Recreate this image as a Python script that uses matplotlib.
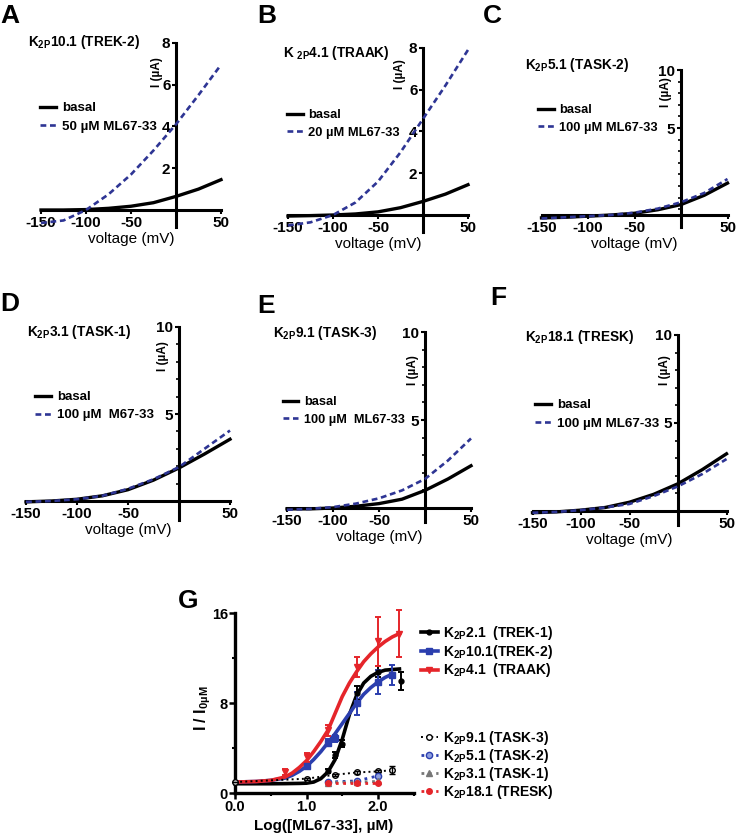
import numpy as np
import matplotlib
matplotlib.use("Agg")
import matplotlib.pyplot as plt
from matplotlib.ticker import FixedLocator

plt.rcParams['font.family'] = ['Liberation Sans', 'DejaVu Sans']
plt.rcParams['font.weight'] = 'bold'
plt.rcParams['axes.unicode_minus'] = False
plt.rcParams['mathtext.fontset'] = 'custom'
plt.rcParams['mathtext.rm'] = 'Liberation Sans:bold'
plt.rcParams['mathtext.bf'] = 'Liberation Sans:bold'
plt.rcParams['mathtext.default'] = 'bf'

# ---------------- data: I-V curves (uA) ----------------
voltage = [-150, -125, -100, -75, -50, -25, 0, 25, 50]

trek2_basal = [0.0, 0.0, 0.02, 0.08, 0.18, 0.35, 0.65, 1.0, 1.45]
trek2_ml = [-0.62, -0.5, 0.0, 0.75, 1.7, 2.85, 4.1, 5.5, 6.95]
traak_basal = [-0.05, -0.03, 0.0, 0.05, 0.15, 0.35, 0.65, 1.0, 1.45]
traak_ml = [-0.5, -0.35, 0.0, 0.6, 1.6, 3.0, 4.6, 6.2, 7.9]
task2_basal = [-2.75, -2.7, -2.6, -2.5, -2.35, -2.05, -1.6, -0.8, 0.25]
task2_ml = [-2.8, -2.7, -2.6, -2.5, -2.3, -1.95, -1.4, -0.6, 0.6]
task1_basal = [-0.05, 0.0, 0.1, 0.3, 0.65, 1.2, 1.9, 2.7, 3.55]
task1_ml = [-0.05, 0.0, 0.1, 0.3, 0.7, 1.25, 1.95, 3.0, 4.05]
task3_basal = [-0.05, -0.05, 0.0, 0.1, 0.25, 0.5, 1.0, 1.65, 2.4]
task3_ml = [-0.1, -0.05, 0.05, 0.25, 0.55, 1.0, 1.65, 2.7, 3.95]
tresk_basal = [-0.1, -0.05, 0.05, 0.2, 0.5, 0.95, 1.55, 2.35, 3.25]
tresk_ml = [-0.1, -0.05, 0.05, 0.2, 0.4, 0.85, 1.4, 2.1, 2.95]

volt_ticks = [-150, -100, -50, 50]

# ---------------- data: dose response (I / I0uM) ----------------
log_conc_fit = [0.0, 0.3, 0.5, 0.7, 0.8, 0.9, 1.0, 1.1, 1.2, 1.3, 1.4,
                1.5, 1.6, 1.7, 1.8, 1.9, 2.0, 2.1, 2.2, 2.3]
trek1_fit = [0.85, 0.85, 0.85, 0.86, 0.87, 0.88, 0.9, 1.0, 1.3, 1.9, 3.0,
             4.8, 7.0, 8.7, 9.8, 10.4, 10.75, 10.95, 11.0, 11.05]
trek2_fit = [1.0, 1.05, 1.15, 1.35, 1.6, 1.95, 2.4, 3.0, 3.7, 4.5, 5.3,
             6.2, 7.1, 8.0, 8.8, 9.4, 9.9, 10.3, 10.6]
traak_fit = [1.0, 1.05, 1.15, 1.45, 1.8, 2.3, 2.9, 3.7, 4.6, 5.6, 7.1,
             8.6, 9.8, 10.8, 11.7, 12.4, 13.0, 13.5, 13.9, 14.2]

trek1_x = [1.3, 1.4, 1.5, 1.7, 2.0, 2.32]
trek1_y = [2.0, 3.4, 4.4, 8.9, 10.8, 10.0]
trek1_err = [0.2, 0.3, 0.3, 0.6, 0.5, 0.8]
trek2_x = [1.0, 1.3, 1.4, 1.7, 2.0, 2.2]
trek2_y = [2.4, 4.5, 4.9, 8.0, 9.9, 10.5]
trek2_err = [0.2, 0.3, 0.3, 1.0, 1.1, 0.9]
traak_x = [0.7, 1.0, 1.3, 1.7, 2.0, 2.3]
traak_y = [1.9, 3.2, 5.6, 11.2, 13.5, 14.2]
traak_err = [0.3, 0.4, 0.5, 0.9, 2.2, 2.1]

task3_x = [0.0, 1.0, 1.4, 1.7, 2.0, 2.2]
task3_y = [1.0, 1.3, 1.65, 1.85, 1.95, 2.05]
task3_err = [0.0, 0.1, 0.1, 0.1, 0.1, 0.35]
task2_x = [1.3, 1.7, 2.0]
task2_y = [1.0, 1.1, 1.55]
task1_x = [1.3, 1.7, 2.0]
task1_y = [0.95, 1.0, 1.05]
tresk_x = [1.3, 1.7, 2.0]
tresk_y = [0.9, 0.9, 0.9]

BLUE_IV = '#2e3594'
BLUE = '#2b3eae'
RED = '#e5252a'
GREY = '#777777'

W, H = 737, 836
fig = plt.figure(figsize=(W / 100, H / 100), dpi=100)


def px_axes(left, top, right, bottom):
    # axes placed by pixel edges (origin top-left)
    return fig.add_axes([left / W, 1 - bottom / H, (right - left) / W, (bottom - top) / H])


def ptext(x, y, s, **kw):
    return fig.text(x / W, 1 - y / H, s, **kw)


# x0/y0: pixel of (0 mV, 0 uA); ppm / ppu: pixels per mV / per uA
panels = [
    dict(letter='A', lxy=(0, 16), title=r'K$_{2P}$10.1 (TREK-2)', txy=(28, 42),
         basal=trek2_basal, drug=trek2_ml, dlabel='50 \u00b5M ML67-33',
         x0=176, ppm=0.9, y0=210, ppu=20.9, ylim=(-0.8, 8), cross=0,
         yticks=[2, 4, 6, 8], minor=[], ylab=(157, 72), leg=(40, 102), lfs=9.6),
    dict(letter='B', lxy=(257, 16), title=r'K $_{2P}$4.1 (TRAAK)', txy=(283, 53),
         basal=traak_basal, drug=traak_ml, dlabel='20 \u00b5M ML67-33',
         x0=423, ppm=0.9, y0=215, ppu=20.9, ylim=(-0.8, 8), cross=0,
         yticks=[2, 4, 6, 8], minor=[], ylab=(400, 74), leg=(287, 109), lfs=9.3),
    dict(letter='C', lxy=(483, 16), title=r'K$_{2P}$5.1 (TASK-2)', txy=(525, 65),
         basal=task2_basal, drug=task2_ml, dlabel='100 \u00b5M ML67-33',
         x0=681, ppm=0.93, y0=186, ppu=11.6, ylim=(-3.5, 10), cross=-2.5,
         yticks=[5, 10], minor=[-2, -1, 0, 1, 2, 3, 4, 6, 7, 8, 9], ylab=(666, 92),
         leg=(538, 104), lfs=9.3),
    dict(letter='D', lxy=(0, 304), title=r'K$_{2P}$3.1 (TASK-1)', txy=(27, 332),
         basal=task1_basal, drug=task1_ml, dlabel='100 \u00b5M  M67-33',
         x0=179, ppm=1.02, y0=501, ppu=17.4, ylim=(-1.1, 10), cross=0,
         yticks=[5, 10], minor=[1, 2, 3, 4, 6, 7, 8, 9], ylab=(163, 356), leg=(35, 391), lfs=9.5),
    dict(letter='E', lxy=(257, 306), title=r'K$_{2P}$9.1 (TASK-3)', txy=(273, 333),
         basal=task3_basal, drug=task3_ml, dlabel='100 \u00b5M  ML67-33',
         x0=425, ppm=0.92, y0=508, ppu=17.6, ylim=(-0.8, 10), cross=0,
         yticks=[5, 10], minor=[1, 2, 3, 4, 6, 7, 8, 9], ylab=(413, 370), leg=(283, 396), lfs=9.2),
    dict(letter='F', lxy=(490, 298), title=r'K$_{2P}$18.1 (TRESK)', txy=(525, 337),
         basal=tresk_basal, drug=tresk_ml, dlabel='100 \u00b5M ML67-33',
         x0=678, ppm=0.97, y0=511, ppu=17.6, ylim=(-0.8, 10), cross=0,
         yticks=[5, 10], minor=[1, 2, 3, 4, 6, 7, 8, 9], ylab=(665, 370), leg=(535, 399), lfs=9.6),
]

for p in panels:
    left = p['x0'] - 150 * p['ppm']
    right = p['x0'] + 50 * p['ppm']
    top = p['y0'] - p['ylim'][1] * p['ppu']
    bottom = p['y0'] - p['ylim'][0] * p['ppu']
    ax = px_axes(left, top, right, bottom)
    ax.patch.set_visible(False)
    ax.set_xlim(-150, 50)
    ax.set_ylim(*p['ylim'])

    ax.plot(voltage, p['basal'], color='black', lw=2.4, clip_on=False, zorder=4, label='basal')
    ax.plot(voltage, p['drug'], color=BLUE_IV, lw=1.9, ls=(0, (2.2, 1.4)),
            clip_on=False, zorder=5, label=p['dlabel'])

    ax.spines['top'].set_visible(False)
    ax.spines['right'].set_visible(False)
    ax.spines['left'].set_position(('data', 0))
    ax.spines['bottom'].set_position(('data', p['cross']))
    ax.spines['left'].set_linewidth(2.2)
    ax.spines['bottom'].set_linewidth(2.2)

    ax.set_xticks(volt_ticks)
    ax.set_xticklabels([str(v) for v in volt_ticks])
    ax.set_yticks(p['yticks'])
    ax.set_yticklabels([str(v) for v in p['yticks']])
    ax.yaxis.set_minor_locator(FixedLocator(p['minor']))
    ax.tick_params(which='major', labelsize=11, width=1.5, length=3, pad=1)
    ax.tick_params(which='minor', width=1.2, length=2)
    ax.set_xlabel('voltage (mV)', fontsize=11, labelpad=2)

    ax.legend(loc='upper left', bbox_to_anchor=(p['leg'][0] / W, 1 - p['leg'][1] / H),
              bbox_transform=fig.transFigure, frameon=False, fontsize=p['lfs'],
              handlelength=1.2, handletextpad=0.45, labelspacing=0.45,
              borderpad=0, borderaxespad=0)

    ptext(*p['lxy'], p['letter'], fontsize=19, ha='left', va='center')
    ptext(*p['txy'], p['title'], fontsize=9.8, ha='left', va='center')
    ptext(*p['ylab'], 'I (\u00b5A)', fontsize=8.5, rotation=90, ha='center', va='center')

# ---------------- panel G ----------------
axg = px_axes(235, 613.3, 413.75, 793.3)
axg.patch.set_visible(False)
axg.set_xlim(0, 2.5)
axg.set_ylim(0, 16)

l_trek1, = axg.plot(log_conc_fit, trek1_fit, color='black', lw=2.6, clip_on=False, zorder=3)
l_trek2, = axg.plot(log_conc_fit[:len(trek2_fit)], trek2_fit, color=BLUE, lw=2.6, clip_on=False, zorder=3)
l_traak, = axg.plot(log_conc_fit, traak_fit, color=RED, lw=2.6, clip_on=False, zorder=3)

e_trek1 = axg.errorbar(trek1_x, trek1_y, yerr=trek1_err, fmt='o', color='black', ms=3.5,
                       capsize=2.5, elinewidth=1.4, capthick=1.4, clip_on=False, zorder=4)
e_trek2 = axg.errorbar(trek2_x, trek2_y, yerr=trek2_err, fmt='s', color=BLUE, ms=4,
                       capsize=2.5, elinewidth=1.4, capthick=1.4, clip_on=False, zorder=4)
e_traak = axg.errorbar(traak_x, traak_y, yerr=traak_err, fmt='v', color=RED, ms=5,
                       capsize=2.5, elinewidth=1.4, capthick=1.4, clip_on=False, zorder=4)

l_task3, = axg.plot(task3_x, task3_y, ':', color='black', lw=1.4, marker='o', mfc='white',
                    mec='black', ms=4, clip_on=False, zorder=5)
axg.errorbar(task3_x, task3_y, yerr=task3_err, fmt='none', ecolor='black', capsize=2,
             elinewidth=1, capthick=1, clip_on=False, zorder=5)
l_task2, = axg.plot(task2_x, task2_y, ':', color=BLUE, lw=2, marker='o', mfc='#8fa0e0',
                    mec=BLUE, ms=4.5, clip_on=False, zorder=5)
l_task1, = axg.plot(task1_x, task1_y, ':', color=GREY, lw=2, marker='^', mfc=GREY,
                    mec=GREY, ms=4, clip_on=False, zorder=5)
l_tresk, = axg.plot(tresk_x, tresk_y, ':', color=RED, lw=2, marker='o', mfc=RED,
                    mec=RED, ms=4, clip_on=False, zorder=5)

axg.spines['top'].set_visible(False)
axg.spines['right'].set_visible(False)
axg.spines['left'].set_linewidth(2.4)
axg.spines['bottom'].set_linewidth(2.4)
axg.set_xticks([0, 1, 2])
axg.set_xticklabels(['0.0', '1.0', '2.0'])
axg.xaxis.set_minor_locator(FixedLocator([0.5, 1.5, 2.5]))
axg.set_yticks([0, 8, 16])
axg.set_yticklabels(['0', '8', '16'])
axg.yaxis.set_minor_locator(FixedLocator([4, 12]))
axg.tick_params(which='major', labelsize=10.5, width=1.8, length=4, pad=1)
axg.tick_params(which='minor', width=1.5, length=2.5)

ptext(178, 601, 'G', fontsize=19, ha='left', va='center')
ptext(203, 708, 'I / I$_{0\u00b5M}$', fontsize=11.5, rotation=90, ha='center', va='center')
ptext(324, 826, 'Log([ML67-33], \u00b5M)', fontsize=11, ha='center', va='center')

leg1 = axg.legend([(l_trek1, e_trek1[0]), (l_trek2, e_trek2[0]), (l_traak, e_traak[0])],
                  [r'K$_{2P}$2.1  (TREK-1)', r'K$_{2P}$10.1(TREK-2)', r'K$_{2P}$4.1  (TRAAK)'],
                  loc='upper left', bbox_to_anchor=(421 / W, 1 - 624 / H),
                  bbox_transform=fig.transFigure, frameon=False, fontsize=10,
                  handlelength=1.2, handletextpad=0.4, labelspacing=0.05,
                  borderpad=0, borderaxespad=0)
axg.add_artist(leg1)
axg.legend([l_task3, l_task2, l_task1, l_tresk],
           [r'K$_{2P}$9.1 (TASK-3)', r'K$_{2P}$5.1 (TASK-2)', r'K$_{2P}$3.1 (TASK-1)',
            r'K$_{2P}$18.1 (TRESK)'],
           loc='upper left', bbox_to_anchor=(421 / W, 1 - 729 / H),
           bbox_transform=fig.transFigure, frameon=False, fontsize=10,
           handlelength=1.2, handletextpad=0.4, labelspacing=0.0,
           borderpad=0, borderaxespad=0)

fig.savefig('out.png', dpi=100)
